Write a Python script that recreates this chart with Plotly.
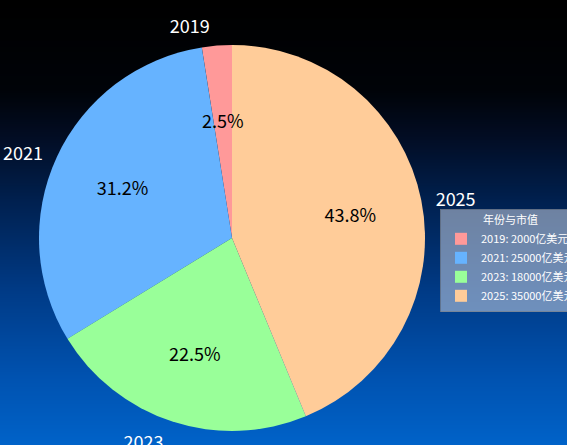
import plotly.graph_objects as go

years = ["2019", "2021", "2023", "2025"]
values = [2000, 25000, 18000, 35000]
unit = "亿美元"
colors = ["#ff9999", "#66b3ff", "#99ff99", "#ffcc99"]
legend_title = "年份与市值"

total = sum(values)
shares = [v / total for v in values]
pct_text = [f"{s * 100:.1f}%" for s in shares]
legend_labels = [f"{y}: {v}{unit}" for y, v in zip(years, values)]
# matplotlib-like startangle=90, counterclockwise: first slice just left of 12 o'clock
rot = -360 * values[0] / total

W, H = 567, 445
cx, cy, r = 232, 238, 193


def dom(rad):
    return dict(x=[(cx - rad) / W, (cx + rad) / W],
                y=[max(0, (H - cy - rad) / H), min(1, (H - cy + rad) / H)])


fig = go.Figure()

# gradient background via heatmap
n = 100
bg_z = [[i / (n - 1)] for i in range(n)]
fig.add_trace(go.Heatmap(
    z=bg_z, x=[0], y=list(range(n)),
    colorscale=[[0.0, "#0062c8"], [0.15, "#0052b0"], [0.35, "#003a85"],
                [0.55, "#00204f"], [0.7, "#020c22"], [0.8, "#000308"], [1.0, "#000000"]],
    showscale=False, hoverinfo="skip", zsmooth="best",
))

clear = ["rgba(0,0,0,0)"] * len(values)

# colored pie (legend source)
fig.add_trace(go.Pie(
    labels=legend_labels, values=values,
    textinfo="none",
    marker=dict(colors=colors, line=dict(width=0)),
    sort=False, direction="counterclockwise", rotation=rot,
    domain=dom(r),
    showlegend=True,
))
# percent labels for large slices (transparent ring overlay, text near 0.6 r)
fig.add_trace(go.Pie(
    labels=years, values=values,
    text=[t if s >= 0.05 else "" for t, s in zip(pct_text, shares)], hole=0.25,
    textinfo="text", textposition="inside", insidetextorientation="horizontal",
    marker=dict(colors=clear, line=dict(width=0)),
    sort=False, direction="counterclockwise", rotation=rot,
    domain=dom(r),
    textfont=dict(size=18, color="black", family="Noto Sans CJK SC"),
    showlegend=False, hoverinfo="skip",
))
# percent labels for small slices (smaller transparent overlay)
fig.add_trace(go.Pie(
    labels=years, values=values,
    text=[t if s < 0.05 else "" for t, s in zip(pct_text, shares)],
    textinfo="text", textposition="inside", insidetextorientation="horizontal",
    marker=dict(colors=clear, line=dict(width=0)),
    sort=False, direction="counterclockwise", rotation=rot,
    domain=dom(128),
    textfont=dict(size=18, color="black", family="Noto Sans CJK SC"),
    showlegend=False, hoverinfo="skip",
))
# outside year labels (transparent larger pie)
fig.add_trace(go.Pie(
    labels=years, values=values,
    textinfo="label", textposition="outside",
    marker=dict(colors=clear, line=dict(width=0)),
    sort=False, direction="counterclockwise", rotation=rot,
    domain=dom(201),
    textfont=dict(size=18, color="white", family="Noto Sans CJK SC"),
    showlegend=False, hoverinfo="skip",
))

fig.update_layout(
    width=W, height=H,
    margin=dict(l=0, r=0, t=0, b=0, autoexpand=False),
    paper_bgcolor="black", plot_bgcolor="black",
    xaxis=dict(visible=False, domain=[0, 1], range=[-0.5, 0.5]),
    yaxis=dict(visible=False, domain=[0, 1], range=[-0.5, n - 0.5]),
    font=dict(family="Noto Sans CJK SC", color="white"),
    uniformtext=dict(minsize=18, mode="show"),
    legend=dict(
        title=dict(text=legend_title, side="top center", font=dict(size=11, color="white")),
        x=(440 / W), y=1 - 209 / H, xanchor="left", yanchor="top",
        bgcolor="rgba(200,210,225,0.55)", bordercolor="rgba(120,130,145,0.8)", borderwidth=1,
        font=dict(size=11, color="white"),
        itemsizing="constant",
    ),
    showlegend=True,
)

fig.write_html("out.html", config={"displayModeBar": False},
               post_script="document.body.style.margin='0';document.body.style.overflow='hidden';")
